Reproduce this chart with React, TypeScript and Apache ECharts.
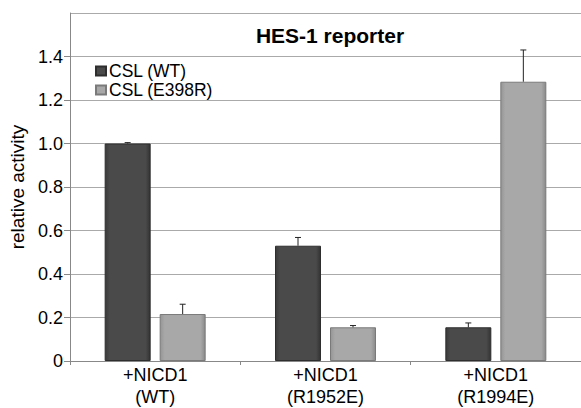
import React, { useEffect, useRef } from "react";
import * as echarts from "echarts";

const categories = ["+NICD1\n(WT)", "+NICD1\n(R1952E)", "+NICD1\n(R1994E)"];
const seriesNames = ["CSL (WT)", "CSL (E398R)"];
const wtValues = [1.0, 0.53, 0.155];
const wtErrors = [0.004, 0.038, 0.02];
const e398rValues = [0.216, 0.155, 1.284];
const e398rErrors = [0.045, 0.008, 0.146];
const yTicks = [0, 0.2, 0.4, 0.6, 0.8, 1.0, 1.2, 1.4, 1.6];

const FONT = "'Liberation Sans', Arial, sans-serif";
const BAR_W = 46;
const BAR_GAP = 9;

function errorSeries(values: number[], errors: number[], side: number) {
  return {
    type: "custom",
    silent: true,
    z: 5,
    data: values.map((v, i) => [i, v, v + errors[i]]),
    renderItem: (params: any, api: any) => {
      const i = api.value(0);
      const base = api.coord([i, api.value(1)]);
      const top = api.coord([i, api.value(2)]);
      const x = base[0] + side * (BAR_W + BAR_GAP) / 2;
      return {
        type: "group",
        children: [
          {
            type: "line",
            shape: { x1: x, y1: base[1], x2: x, y2: top[1] },
            style: { stroke: "#222", lineWidth: 1 },
          },
          {
            type: "line",
            shape: { x1: x - 3, y1: top[1], x2: x + 3, y2: top[1] },
            style: { stroke: "#222", lineWidth: 1 },
          },
        ],
      };
    },
  };
}

export default function App() {
  const ref = useRef<HTMLDivElement>(null);
  useEffect(() => {
    if (!ref.current) return;
    const chart = echarts.init(ref.current, null, { renderer: "svg" });
    const darkGrad = new echarts.graphic.LinearGradient(0, 0, 1, 0, [
      { offset: 0, color: "#3a3a3a" },
      { offset: 0.1, color: "#4a4a4a" },
      { offset: 0.9, color: "#4a4a4a" },
      { offset: 1, color: "#333333" },
    ]);
    const lightGrad = new echarts.graphic.LinearGradient(0, 0, 1, 0, [
      { offset: 0, color: "#959595" },
      { offset: 0.1, color: "#a8a8a8" },
      { offset: 0.9, color: "#a8a8a8" },
      { offset: 1, color: "#8a8a8a" },
    ]);
    chart.setOption({
      animation: false,
      backgroundColor: "#ffffff",
      textStyle: { fontFamily: FONT },
      title: {
        text: "HES-1 reporter",
        left: 325,
        top: 20,
        textAlign: "center",
        textStyle: { fontFamily: FONT, fontSize: 21, fontWeight: "bold", color: "#000" },
      },
      legend: {
        orient: "vertical",
        left: 90,
        top: 57,
        itemWidth: 10,
        itemHeight: 9,
        itemGap: 1,
        icon: "rect",
        data: seriesNames,
        textStyle: {
          fontFamily: FONT,
          fontSize: 17.5,
          lineHeight: 17,
          color: "#000",
          padding: [0, 0, 0, -2],
        },
      },
      grid: { left: 70, top: 13, width: 513, bottom: 42, containLabel: false },
      xAxis: {
        type: "category",
        data: categories,
        axisLine: { show: true, lineStyle: { color: "#888", width: 1 } },
        axisTick: { show: true, length: 4, lineStyle: { color: "#888" } },
        axisLabel: {
          fontFamily: FONT,
          fontSize: 18,
          color: "#000",
          lineHeight: 22,
          margin: 3,
        },
      },
      yAxis: {
        type: "value",
        min: 0,
        max: 1.6,
        interval: 0.2,
        name: "relative activity",
        nameLocation: "middle",
        nameGap: 40,
        nameTextStyle: { fontFamily: FONT, fontSize: 19, color: "#000" },
        axisLine: { show: true, lineStyle: { color: "#888", width: 1 } },
        axisTick: { show: true, length: 6, lineStyle: { color: "#888" } },
        splitLine: { show: true, lineStyle: { color: "#aaa", width: 1 } },
        axisLabel: {
          fontFamily: FONT,
          fontSize: 18,
          color: "#000",
          margin: 7,
          formatter: (v: number) => {
            const t = yTicks.find((x) => Math.abs(x - v) < 1e-9);
            if (t === undefined) return "";
            return t === 0 ? "0" : t.toFixed(1);
          },
          showMaxLabel: false,
        },
      },
      series: [
        {
          name: seriesNames[0],
          type: "bar",
          data: wtValues,
          barWidth: BAR_W,
          barGap: (BAR_GAP / BAR_W) * 100 + "%",
          itemStyle: { color: darkGrad, borderColor: "#2e2e2e", borderWidth: 1 },
        },
        {
          name: seriesNames[1],
          type: "bar",
          data: e398rValues,
          barWidth: BAR_W,
          itemStyle: { color: lightGrad, borderColor: "#7a7a7a", borderWidth: 1 },
        },
        errorSeries(wtValues, wtErrors, -1),
        errorSeries(e398rValues, e398rErrors, 1),
      ],
    });
    return () => chart.dispose();
  }, []);
  return <div ref={ref} style={{ width: 581, height: 408, position: "absolute", left: 0, top: 0 }} />;
}
